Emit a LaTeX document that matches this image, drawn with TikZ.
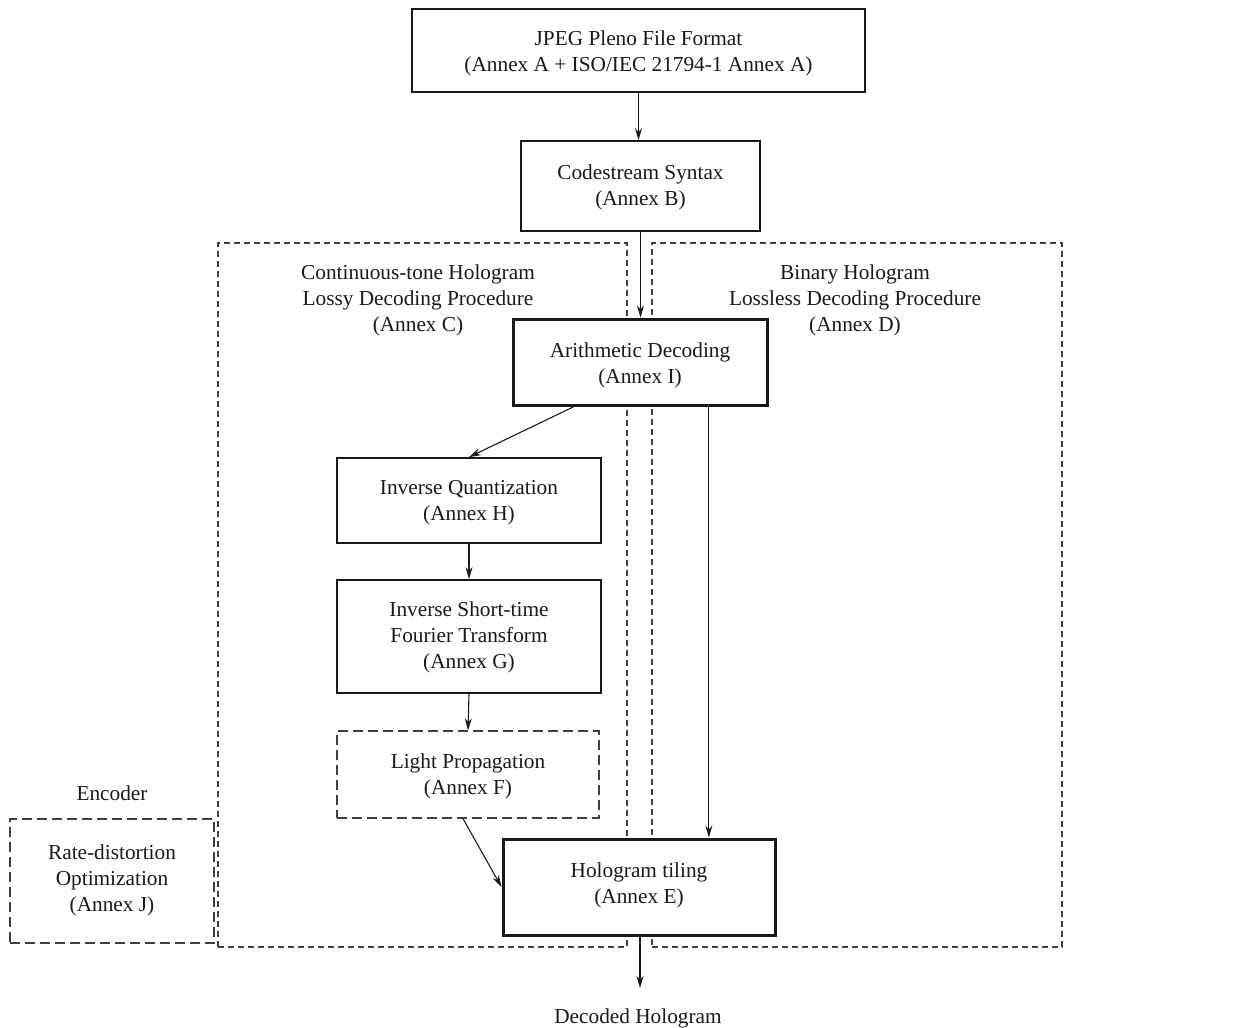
\documentclass[tikz,border=0pt]{standalone}
\usepackage{fontspec}
\setmainfont{Liberation Serif}
\usetikzlibrary{arrows.meta,calc}
\newcommand\tx[2][-2.5pt]{\raisebox{#1}[\height][\depth]{\begin{tabular}{@{}c@{}}#2\end{tabular}}}
\begin{document}
\begin{tikzpicture}[x=1pt,y=-1pt,
  every node/.style={font=\fontsize{21.3}{26}\selectfont, align=center, text=black!90},
  box/.style={draw=black!90, fill=white, line width=1.8pt, inner sep=0pt},
  thickbox/.style={draw=black!90, fill=white, line width=3pt, inner sep=0pt},
  dbox/.style={draw=black!75, fill=white, line width=1.3pt, dash pattern=on 10pt off 5pt, inner sep=0pt},
  region/.style={draw=black!75, line width=1.1pt, dash pattern=on 6pt off 4pt, inner sep=0pt},
  lbl/.style={inner sep=0pt},
  arr/.style={draw=black!90, line width=1.1pt, -{Stealth[length=12pt,width=7pt]}}]
\useasboundingbox (0,0) rectangle (1248,1028);
% regions
\node[region, minimum width=409pt, minimum height=704pt] (lreg) at (422.5,595) {};
\node[region, minimum width=410pt, minimum height=704pt] (rreg) at (857,595) {};
\node[lbl] (ltxt) at (418,298) {\tx{Continuous-tone Hologram\\Lossy Decoding Procedure\\(Annex C)}};
\node[lbl] (rtxt) at (855,298) {\tx{Binary Hologram\\Lossless Decoding Procedure\\(Annex D)}};
% boxes
\node[box, minimum width=453pt, minimum height=83pt] (ff) at (638.5,50.5) {\tx{JPEG Pleno File Format\\(Annex A + ISO/IEC 21794-1 Annex A)}};
\node[box, minimum width=239pt, minimum height=90pt] (cs) at (640.5,186) {\tx[-1.5pt]{Codestream Syntax\\(Annex B)}};
\node[thickbox, minimum width=254pt, minimum height=86pt] (ad) at (640,362) {\tx[-3pt]{Arithmetic Decoding\\(Annex I)}};
\node[box, minimum width=264pt, minimum height=85pt] (iq) at (469,500.5) {\tx[-1.5pt]{Inverse Quantization\\(Annex H)}};
\node[box, minimum width=264pt, minimum height=113pt] (ist) at (469,636.5) {\tx[-0.5pt]{Inverse Short-time\\Fourier Transform\\(Annex G)}};
\node[dbox, minimum width=262pt, minimum height=87pt] (lp) at (468,774.5) {\tx[-1.5pt]{Light Propagation\\(Annex F)}};
\node[thickbox, minimum width=272pt, minimum height=96pt] (ht) at (639,887) {\tx[1.5pt]{Hologram tiling\\(Annex E)}};
\node[lbl] (enc) at (112,793) {Encoder};
\node[dbox, minimum width=204pt, minimum height=124pt] (rd) at (112,881) {\tx[0.5pt]{Rate-distortion\\Optimization\\(Annex J)}};
\node[lbl] (out) at (638,1018) {Decoded Hologram};
\coordinate (end) at (640,988);
% connectors
\draw[arr] (ff.south) -- (ff.south |- cs.north);
\draw[arr] (cs.south) -- (cs.south |- ad.north);
\coordinate (ad1) at ($(ad.south west)!0.244!(ad.south east)$);
\coordinate (ad2) at ($(ad.south west)!0.768!(ad.south east)$);
\draw[arr] (ad1) -- (iq.north);
\draw[arr] (ad2) -- (ad2 |- ht.north);
\draw[arr] (iq.south) -- (ist.north);
\draw[arr] (ist.south) -- (lp.north);
\draw[arr] ($(lp.south)+(-5,0)$) -- (ht.west);
\draw[arr] (ht.south -| end) -- (end);
\end{tikzpicture}
\end{document}
